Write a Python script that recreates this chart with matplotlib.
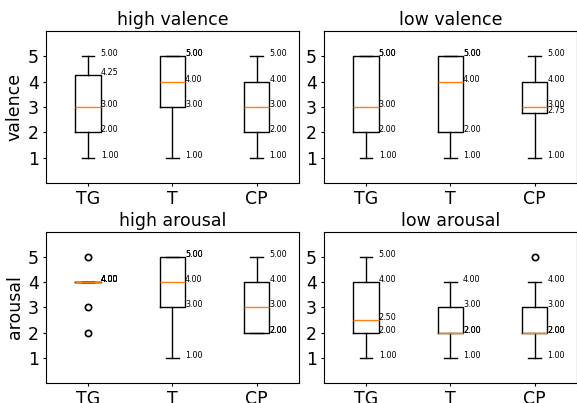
import matplotlib
matplotlib.use("Agg")
import matplotlib.pyplot as plt

# box statistics (per panel: TG, T, CP)
groups = ["TG", "T", "CP"]
titles = ["high valence", "low valence", "high arousal", "low arousal"]
ylabels = ["valence", None, "arousal", None]

whislo = [[1, 1, 1], [1, 1, 1], [4, 1, 2], [1, 1, 1]]
q1 = [[2, 3, 2], [2, 2, 2.75], [4, 3, 2], [2, 2, 2]]
med = [[3, 4, 3], [3, 4, 3], [4, 4, 3], [2.5, 2, 2]]
q3 = [[4.25, 5, 4], [5, 5, 4], [4, 5, 4], [4, 3, 3]]
whishi = [[5, 5, 5], [5, 5, 5], [4, 5, 5], [5, 4, 4]]
fliers = [[[], [], []], [[], [], []], [[5, 3, 2], [], []], [[], [], [5]]]

fig = plt.figure(figsize=(5.77, 4.03), dpi=100)
rects = [
    [0.0797, 0.546, 0.438, 0.377],
    [0.5615, 0.546, 0.438, 0.377],
    [0.0797, 0.0496, 0.438, 0.375],
    [0.5615, 0.0496, 0.438, 0.375],
]

width = 0.3
for p in range(4):
    ax = fig.add_axes(rects[p])
    stats = []
    for g in range(3):
        stats.append({
            "whislo": whislo[p][g], "q1": q1[p][g], "med": med[p][g],
            "q3": q3[p][g], "whishi": whishi[p][g], "fliers": fliers[p][g],
        })
    positions = [1, 2, 3]
    ax.bxp(stats, positions=positions, widths=width, showfliers=True,
           flierprops=dict(marker="o", markersize=4.5, markeredgewidth=1.2))
    # value labels at the right edge of each box
    for g in range(3):
        for v in [whislo[p][g], q1[p][g], med[p][g], q3[p][g], whishi[p][g]]:
            ax.text(positions[g] + width / 2, v, "%.2f" % v, fontsize=5.8)
    ax.set_xlim(0.5, 3.5)
    ax.set_ylim(0, 6)
    ax.set_yticks([1, 2, 3, 4, 5])
    ax.set_xticks(positions)
    ax.set_xticklabels(groups)
    ax.tick_params(labelsize=12.5, length=2.5, pad=2.5)
    for s in ax.spines.values():
        s.set_linewidth(0.8)
    ax.set_title(titles[p], fontsize=12.5, pad=4.5)
    if ylabels[p]:
        ax.set_ylabel(ylabels[p], fontsize=12.5, labelpad=3)

plt.savefig("out.png", dpi=100)
